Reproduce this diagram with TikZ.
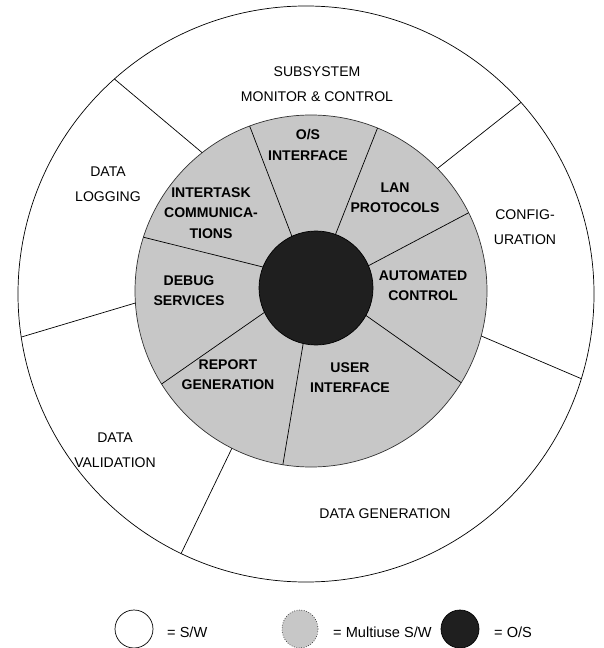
\documentclass[tikz,border=0pt]{standalone}
\usepackage{fontspec}
\setmainfont{Liberation Sans}
\usetikzlibrary{calc}
\begin{document}
\begin{tikzpicture}[x=0.02cm,y=-0.02cm,
  outlbl/.style={align=center,font=\fontsize{8}{14.5}\selectfont},
  inlbl/.style={align=center,font=\fontsize{8}{11.5}\selectfont\bfseries},
  keylbl/.style={anchor=west,font=\fontsize{8.3}{10}\selectfont},
  multi/.style={fill=black!22,draw=black!80},
  osfill/.style={fill=black!88}]
\pgfmathsetmacro{\ro}{288}
\pgfmathsetmacro{\ri}{176}
\pgfmathsetmacro{\rd}{57}
\useasboundingbox(0,0)rectangle(604,648);
\coordinate(oc)at(306,294);
\coordinate(ic)at(311,291);
\coordinate(dc)at(316,288);
%rings
\draw(oc)circle[radius=\ro];
\draw[multi](ic)circle[radius=\ri];
\draw[osfill](dc)circle[radius=\rd];
%outer dividers
\draw($(ic)+(-128.2:\ri)$)--($(oc)+(-131.7:\ro)$);
\draw($(ic)+(-44.1:\ri)$)--($(oc)+(-41.7:\ro)$);
\draw($(ic)+(176.1:\ri)$)--($(oc)+(171.4:\ro)$);
\draw($(ic)+(14.8:\ri)$)--($(oc)+(17.1:\ro)$);
\draw($(ic)+(116.7:\ri)$)--($(oc)+(115.7:\ro)$);
%inner dividers
\draw($(dc)+(-115:\rd)$)--($(ic)+(-110.4:\ri)$);
\draw($(dc)+(-70:\rd)$)--($(ic)+(-67.8:\ri)$);
\draw($(dc)+(-23:\rd)$)--($(ic)+(-26.4:\ri)$);
\draw($(dc)+(28.8:\rd)$)--($(ic)+(31.4:\ri)$);
\draw($(dc)+(103:\rd)$)--($(ic)+(99.2:\ri)$);
\draw($(dc)+(154.7:\rd)$)--($(ic)+(148.1:\ri)$);
\draw($(dc)+(-158.4:\rd)$)--($(ic)+(-162.2:\ri)$);
%outer labels
\node[outlbl](smc)at(317,84){SUBSYSTEM\\MONITOR \& CONTROL};
\node[outlbl](dlog)at(108,184){DATA\\LOGGING};
\node[outlbl](cfg)at(525,227){CONFIG-\\URATION};
\node[outlbl](dval)at(115,450){DATA\\VALIDATION};
\node[outlbl](dgen)at(385,514){DATA GENERATION};
%inner labels
\node[inlbl](osi)at(308,145){O/S\\INTERFACE};
\node[inlbl](lan)at(395,198){LAN\\PROTOCOLS};
\node[inlbl](auto)at(423,286){AUTOMATED\\CONTROL};
\node[inlbl](usr)at(350,378){USER\\INTERFACE};
\node[inlbl](rpt)at(228,375){REPORT\\GENERATION};
\node[inlbl](dbg)at(189,291){DEBUG\\SERVICES};
\node[inlbl](itc)at(211,213){INTERTASK\\COMMUNICA-\\TIONS};
%key
\draw(134,629)ellipse[x radius=19,y radius=19];
\draw[multi,densely dotted](300,629)ellipse[x radius=18,y radius=19];
\draw[osfill](460,629)ellipse[x radius=19,y radius=19];
\node[keylbl](ksw)at(161,632){= S/W};
\node[keylbl](kmu)at(327,632){= Multiuse S/W};
\node[keylbl](kos)at(488,632){= O/S};
\end{tikzpicture}
\end{document}
